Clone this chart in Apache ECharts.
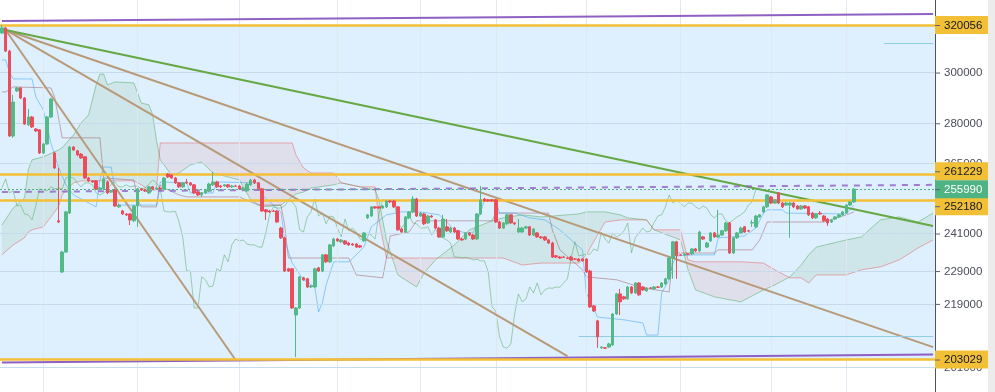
<!DOCTYPE html>
<html><head><meta charset="utf-8">
<script src="https://cdn.jsdelivr.net/npm/echarts@6/dist/echarts.min.js"></script>
<style>html,body{margin:0;padding:0;background:#fff;overflow:hidden}#c{width:995px;height:392px}</style>
</head><body><div id="c"></div>
<script>
// ---------------- data ----------------
const opens = [
316600,318800,308900,275200,292600,293800,289800,279400,282400,277800,
277500,268900,272200,282400,268900,245200,228700,235000,247800,271100,
269700,268500,267500,259900,258900,258900,256100,256100,258500,255000,
255700,249900,248500,247500,247500,245200,250200,256100,255700,254700,
256800,256100,256400,256100,261300,261000,259900,258200,256800,258500,
258200,257500,255000,254000,254700,255400,257500,258500,257100,257100,
257500,256800,257100,257100,256100,255400,257500,259200,258200,256100,
248900,248500,248500,248500,242800,239600,229700,229700,215700,217800,
226900,226600,224100,224100,230000,229000,234100,231900,237000,239200,
238300,238600,237900,237600,237600,237000,238600,246200,246800,249900,
249900,249500,249900,251900,251900,249900,242500,241500,246200,248200,
252600,246800,247500,244500,246800,245500,242800,239900,243200,241500,
242800,241900,239200,239200,241200,240500,239200,247500,252600,252300,
252300,252300,244800,242800,244200,247200,244500,241500,241500,242800,
243200,240500,241200,239900,239900,238900,237900,233800,233400,233400,
233100,233400,232800,232800,232800,232800,229000,218400,214000,206300,
206300,206500,207100,216000,222000,221100,220500,224100,222300,225300,
224100,222900,223800,223500,224100,224100,225000,226600,233100,238300,
234100,234100,234400,234400,236000,235400,239900,236600,238600,241200,
239900,240500,241900,244500,234700,239600,241200,243200,241900,244500,
243200,246500,248200,249900,253300,251200,254700,251200,250500,250500,
251200,250200,249200,250200,249900,247800,246200,247800,246800,245800,
244800,245800,246500,247200,247800,250500,251600];
const closes = [
318800,308900,275200,288200,293800,289800,279700,282400,278600,277100,
268900,272200,282400,289400,263500,244800,235000,248200,271100,270000,
268200,267100,259900,258900,258500,256100,256400,259600,254700,255400,
250200,250500,247500,247200,245500,250200,256100,255700,255400,256800,
256100,256400,256100,259900,260300,259900,258200,256800,258200,258200,
257500,254700,254000,254700,255700,257800,258500,256800,256800,257500,
256800,257100,257000,256100,256400,257800,259200,258200,256100,248500,
248200,248200,248400,244800,239600,229000,229000,217800,217800,227200,
226300,224100,224400,229700,229000,234100,231900,237300,239200,238600,
238900,237600,237300,237300,236600,236600,241200,247200,249900,249500,
249500,250200,251900,251600,249900,242200,241500,246500,248200,252600,
246800,247800,244200,246800,246500,242800,239900,245800,241900,242800,
241500,239200,238900,241200,240500,239200,247500,252300,251900,251900,
251900,244800,242800,244500,247200,244500,244200,242800,242800,243200,
240500,242500,239900,239600,238900,237900,233400,233400,233100,233300,
233000,232500,232700,232200,232200,228700,218100,216900,209400,206500,
206200,207400,216000,222000,219600,220500,224100,222300,225300,221700,
223200,223800,223700,224100,224000,225300,226600,233100,238300,233800,
234000,234400,234300,236000,235400,241500,239200,237900,241200,239900,
240500,241900,244500,234700,239600,241200,242800,241500,241800,244600,
246800,247200,249900,254000,251200,252300,251200,249900,251200,251200,
249900,249200,250200,249500,247200,246200,247500,247500,245200,244500,
245500,246500,247200,248200,250500,251600,255990];
const highs = [
320100,319200,309400,291000,294200,294200,290200,285500,282800,278200,
277800,272600,282800,289800,269300,263500,235400,248500,271500,271500,
270000,268900,267800,260300,259200,259200,256800,259900,258900,255700,
256100,250900,248900,247800,247800,250500,256400,256400,256100,257100,
257100,256800,256800,260300,261700,261300,260300,258500,258500,259600,
258500,257800,255400,255000,256100,258200,262100,258900,257500,257800,
257800,257500,257500,257500,256800,258200,259600,259600,258500,256400,
249200,248900,248900,248900,243200,239900,230000,230000,218100,227500,
227200,226900,224700,230000,230300,234400,234400,237600,239600,239600,
239200,238900,238300,237900,237900,237300,241500,247500,250200,250200,
250200,250500,252300,252300,252300,250200,242800,246800,248500,253600,
253000,248200,247800,247200,247200,245800,243200,247200,245800,243200,
243200,242200,239600,241500,241500,240900,247800,257100,253000,252600,
252600,252600,245200,244800,247500,247500,244800,245800,243200,243500,
243500,242800,241500,240200,240200,239200,238300,234100,233800,233800,
233400,233800,233100,233100,233100,233100,229400,218700,214300,206800,
206500,207700,216300,222300,223500,221400,224400,224400,225600,225600,
224400,224100,224100,224400,224400,225600,226900,233400,238600,238600,
234400,234700,234700,236300,236300,241900,240200,238300,241500,241500,
248900,242200,244800,244800,239900,241500,243200,243500,242200,245500,
247200,247500,250200,254300,253600,252600,255000,251600,251600,251600,
251600,250500,250500,250500,250200,248200,247800,248500,247200,246200,
245800,246800,247500,248500,250900,251900,256400];
const lows = [
316200,308500,274800,274500,292200,289400,279400,279000,278200,276700,
268500,268500,271900,282000,263100,244500,228400,234700,247500,269700,
267800,266800,259600,258500,258200,255700,255700,255700,254300,254700,
249900,249500,247200,246800,243800,244800,243200,255400,255000,254300,
255700,255700,255700,255700,259900,259600,257800,256400,256400,257800,
257100,254300,253600,253300,254300,255000,257100,256400,256400,256800,
256400,256400,256800,255700,255700,255000,257100,257800,255700,248200,
245500,247800,248200,244500,239200,228700,228700,217500,203700,217500,
226000,223800,223800,223800,228700,228700,231500,231500,236600,238300,
237900,237300,237000,237000,236300,236300,238300,245800,246500,249200,
249200,249200,249500,251200,249500,241900,241200,241200,245800,247800,
246500,246500,243800,244200,246200,242500,239600,239600,241500,241200,
241200,238900,238600,238900,240200,238900,238900,247200,251600,251600,
251600,244500,242500,242500,243800,244200,243800,241200,241200,242500,
240200,240200,239600,239200,238600,237600,233100,233100,232800,233100,
232800,232200,232500,231900,231900,228400,217800,216600,206300,206000,
206000,206300,206800,215700,215700,220200,220200,222000,222000,221400,
222900,222600,223500,223200,223800,223800,224700,226300,226600,226600,
233800,233800,234100,234100,235000,235000,238900,236300,238300,239600,
239600,240200,241500,234400,234400,239200,240900,241200,241500,243200,
242800,246200,247800,249500,250900,250900,250900,249500,250200,239600,
249500,248900,248900,249200,246800,245800,245800,247200,244800,243500,
244500,245500,246200,246800,247500,250200,251200];

// Ichimoku lines (slot index, price) read at breakpoints
const tenkanX = [0,1,2,3,8,9,11,13,15,17,19,25,26,27,29,30,31,41,42,49,50,56,57,68,69,74,75,77,80,83,84,85,86,88,92,94,96,98,102,106,111,116,118,120,123,125,127,128,131,132,136,140,144,148,151,154,155,158,165,170,171,174,175,177,178,179,184,189,190,197,200,202,203,207,208,224,226];
const tenkanY = [305200,305200,300200,297400,297400,290200,285100,272600,263800,257500,254000,249900,259200,263800,263800,255700,250500,250500,258500,258200,254700,254700,258500,258200,254000,248200,238900,231500,226300,224100,216600,219300,224700,231900,231900,234100,236600,243200,247200,248200,248200,247200,244800,242200,241200,241200,248200,252300,252300,247800,247800,246200,245500,242200,238900,235700,222300,215100,214300,213400,209900,209900,222300,226300,231500,233800,234100,234100,239600,240200,242800,247800,248900,248900,247800,247500,250500];
const kijunX = [0,1,3,13,14,16,26,27,35,36,37,41,42,43,47,49,63,68,74,75,76,92,94,101,102,103,108,110,130,131,145,146,148,154,155,163,170,177,178,189,190,199,201,203,218,224,226];
const kijunY = [292200,292200,294200,293800,290200,274500,274500,259900,259200,252300,249900,249900,257500,256400,254000,253300,253300,250500,250500,243800,233100,233100,227800,226900,233100,240200,241500,245200,245200,247800,247800,242200,235700,229400,227200,226300,223800,222600,234700,234700,235700,235700,238900,244800,244800,247200,248200];
const cloudX = [0,3,6,7,8,11,15,16,19,21,23,25,26,27,28,30,35,37,39,40,41,42,45,47,50,53,56,63,66,69,74,77,78,80,82,88,90,95,99,100,102,105,110,112,115,120,124,130,133,138,143,153,155,158,160,164,166,171,173,180,182,184,189,196,202,205,209,212,214,216,224,228,233,238,243,247];
const senkouA = [243800,249500,253000,262800,266400,267500,270000,270800,275600,280100,283200,295000,299400,299400,295000,296200,295800,287800,287100,283200,273700,266400,261000,261700,264600,265600,261700,259200,252300,249900,250500,253300,254300,255000,256400,257500,258200,256800,255700,252300,238900,227800,224100,228400,232500,237300,242200,245200,246200,247200,246500,247500,248200,248200,248200,247200,246200,245500,242200,238900,229400,223200,221100,219600,223200,224700,227200,230900,234100,236600,238900,239900,245500,246500,244800,247800];
const senkouB = [234100,237300,239600,241500,242200,243200,249900,254000,258200,258900,258900,258900,258900,258900,258900,258900,258900,257500,255700,255700,255700,272600,272600,272600,272600,272600,272600,272600,272600,272600,272600,272600,268200,263500,261700,261700,258200,256800,256800,245500,233100,233100,233100,233100,233100,233100,233100,233100,233100,230900,231500,231500,234100,240500,244800,245500,245500,245500,242200,242200,232500,231900,231900,231900,231500,229400,226900,226900,225300,227800,227800,229400,230300,232500,236300,238900];
const chikouShift = 26;

// levels / drawings
const orangeLevels = [320056, 261229, 252180, 203029];
const blueLevels = [312054, 209648];
const blueLevelStart = [234, 153];
const lastPrice = 255990;
const tickValues = [300000, 280000, 265000, 241000, 229000, 219000, 201000];
const monthSlots = [11, 36, 63, 89, 111, 131, 155, 180, 204, 224];
const fanOrigin = [1, 317900];
const fanEnds = [[62, 202900], [150, 204000], [247, 206500]];
const greenTrendEnd = [247, 243500];
const channelTop = [[0, 321800], [247, 324900]];
const channelBottom = [[0, 202200], [247, 204400]];
const dashedLine = [[0, 255000], [247, 257500]];
const totalSlots = 248;

// ---------------- chart ----------------
const cats = Array.from({length: totalSlots}, (_, i) => String(i));
const candles = opens.map((o, i) => [o, closes[i], lows[i], highs[i]]);
const pairs = (xs, ys) => xs.map((x, i) => [x, ys[i]]);
const chikou = [];
for (let i = chikouShift; i < closes.length; i++) chikou.push([i - chikouShift, closes[i]]);
const cloudData = [];
for (let k = 0; k < cloudX.length - 1; k++) cloudData.push([cloudX[k], senkouA[k], k]);

const FONT = '"Liberation Sans", Arial, sans-serif';
const GREEN_FILL = 'rgba(67,160,71,0.10)';
const PINK_FILL = 'rgba(233,80,80,0.10)';

function renderCloud(params, api) {
  const k = api.value(2);
  const a0 = api.coord([cloudX[k], senkouA[k]]), a1 = api.coord([cloudX[k + 1], senkouA[k + 1]]);
  const b0 = api.coord([cloudX[k], senkouB[k]]), b1 = api.coord([cloudX[k + 1], senkouB[k + 1]]);
  const d0 = b0[1] - a0[1], d1 = b1[1] - a1[1];
  const poly = (pts, fill) => ({type: 'polygon', shape: {points: pts}, style: {fill: fill}, silent: true});
  const ch = [];
  if (d0 * d1 >= 0) {
    ch.push(poly([a0, a1, b1, b0], (d0 + d1) >= 0 ? GREEN_FILL : PINK_FILL));
  } else {
    const t = d0 / (d0 - d1);
    const p = [a0[0] + (a1[0] - a0[0]) * t, a0[1] + (a1[1] - a0[1]) * t];
    ch.push(poly([a0, p, b0], d0 > 0 ? GREEN_FILL : PINK_FILL));
    ch.push(poly([p, a1, b1], d1 > 0 ? GREEN_FILL : PINK_FILL));
  }
  return {type: 'group', children: ch};
}

function boxLabel(bg, fg) {
  return {
    show: true, position: 'end', distance: 0,
    formatter: p => '{t| }{v|' + p.name + '}',
    backgroundColor: bg, padding: [3, 6, 2, 0],
    rich: {
      t: {width: 5, height: 1, backgroundColor: '#5d606b', fontSize: 1},
      v: {color: fg, fontSize: 11.5, fontFamily: FONT, padding: [0, 0, 0, 4], width: 41, lineHeight: 13}
    }
  };
}
// label nudges so the boxes do not overlap (as in the reference)
const labelNudge = {261229: -3, 252180: 6};

const lineSeries = (name, data, color, z) => ({
  type: 'line', name, data, symbol: 'none', z, silent: true,
  lineStyle: {color, width: 1}, animation: false
});

const seg = (a, b) => [{coord: a}, {coord: b}];

const option = {
  animation: false,
  grid: {left: 0, right: 60, top: 0, bottom: 0, containLabel: false},
  xAxis: {type: 'category', data: cats, boundaryGap: true,
    axisLine: {show: false}, axisTick: {show: false}, axisLabel: {show: false}, splitLine: {show: false}},
  yAxis: {type: 'log', position: 'right', min: 194256, max: 331130,
    axisLine: {show: true, lineStyle: {color: '#50535e', width: 1}},
    axisTick: {show: false}, axisLabel: {show: false}, splitLine: {show: false}},
  graphic: [{type: 'rect', right: 0, top: 0, shape: {width: 7, height: 392}, style: {fill: '#ececec'}, z: 100}],
  series: [
    { // grid lines + rectangle
      type: 'line', data: [], z: 1, silent: true, clip: false,
      markLine: {silent: true, symbol: ['none', 'none'], animation: false,
        lineStyle: {color: '#dfe8ef', width: 1, type: 'solid'},
        label: {show: false},
        data: monthSlots.map(s => ({xAxis: s}))},
      markArea: {silent: true, itemStyle: {color: 'rgba(33,150,243,0.15)'},
        data: [[{yAxis: orangeLevels[0]}, {yAxis: orangeLevels[3]}]]}
    },
    { // tick labels with horizontal grid
      type: 'line', data: [], z: 2, silent: true, clip: false,
      markLine: {silent: true, symbol: ['none', 'none'], animation: false,
        lineStyle: {color: '#c6dcec', width: 1, type: 'solid'},
        label: boxLabel('transparent', '#4a4d57'),
        data: tickValues.map(v => ({yAxis: v, name: String(v)}))}
    },
    {type: 'custom', renderItem: renderCloud, data: cloudData, z: 3, silent: true,
      encode: {x: 0, y: 1}, clip: true},
    lineSeries('senkouA', pairs(cloudX, senkouA), 'rgba(67,160,71,0.45)', 4),
    lineSeries('senkouB', pairs(cloudX, senkouB), 'rgba(233,80,80,0.45)', 4),
    lineSeries('chikou', chikou, 'rgba(67,160,71,0.45)', 4),
    lineSeries('kijun', pairs(kijunX, kijunY), 'rgba(128,25,34,0.35)', 4),
    lineSeries('tenkan', pairs(tenkanX, tenkanY), 'rgba(33,150,243,0.45)', 4),
    {
      type: 'candlestick', data: candles, z: 5, barWidth: 3, silent: true,
      itemStyle: {color: '#53b987', color0: '#eb4d5c', borderColor: '#53b987', borderColor0: '#eb4d5c', borderWidth: 1}
    },
    { // drawings
      type: 'line', data: [], z: 6, silent: true, clip: false,
      markLine: {silent: true, symbol: ['none', 'none'], animation: false, label: {show: false},
        data: [
          ...fanEnds.map(e => [{coord: fanOrigin, lineStyle: {color: '#b89a78', width: 2, type: 'solid'}}, {coord: e}]),
          [{coord: fanOrigin, lineStyle: {color: '#66a843', width: 2, type: 'solid'}}, {coord: greenTrendEnd}],
          [{coord: channelTop[0], lineStyle: {color: '#8e60c4', width: 2, type: 'solid'}}, {coord: channelTop[1]}],
          [{coord: channelBottom[0], lineStyle: {color: '#8e60c4', width: 2, type: 'solid'}}, {coord: channelBottom[1]}],
          [{coord: dashedLine[0], lineStyle: {color: 'rgba(142,96,196,0.8)', width: 2, type: [6, 6]}}, {coord: dashedLine[1]}],
          ...blueLevels.map((v, i) => [{coord: [blueLevelStart[i], v], lineStyle: {color: '#8fcde3', width: 1, type: 'solid'}}, {coord: [totalSlots - 1, v]}])
        ]}
    },
    { // orange levels with labels
      type: 'line', data: [], z: 7, silent: true, clip: false,
      markLine: {silent: true, symbol: ['none', 'none'], animation: false,
        lineStyle: {color: '#f5bf36', width: 2.5, type: 'solid'},
        label: boxLabel('#f2c037', '#131722'),
        data: orangeLevels.map(v => ({yAxis: v, name: String(v),
          label: {offset: [0, labelNudge[v] || 0]}}))}
    },
    { // blue level labels (no line)
      type: 'line', data: [], z: 7, silent: true, clip: false,
      markLine: {silent: true, symbol: ['none', 'none'], animation: false,
        lineStyle: {width: 0, opacity: 0},
        label: boxLabel('#7fcfdc', '#131722'),
        data: blueLevels.map(v => ({yAxis: v, name: String(v)}))}
    },
    { // last price
      type: 'line', data: [], z: 8, silent: true, clip: false,
      markLine: {silent: true, symbol: ['none', 'none'], animation: false,
        lineStyle: {color: '#4fae7f', width: 1, type: [2, 2]},
        label: boxLabel('#4fb383', '#ffffff'),
        data: [{yAxis: lastPrice, name: String(lastPrice)}]}
    }
  ]
};
const chart = echarts.init(document.getElementById('c'), null, {renderer: 'canvas'});
chart.setOption(option);
</script>
</body></html>
